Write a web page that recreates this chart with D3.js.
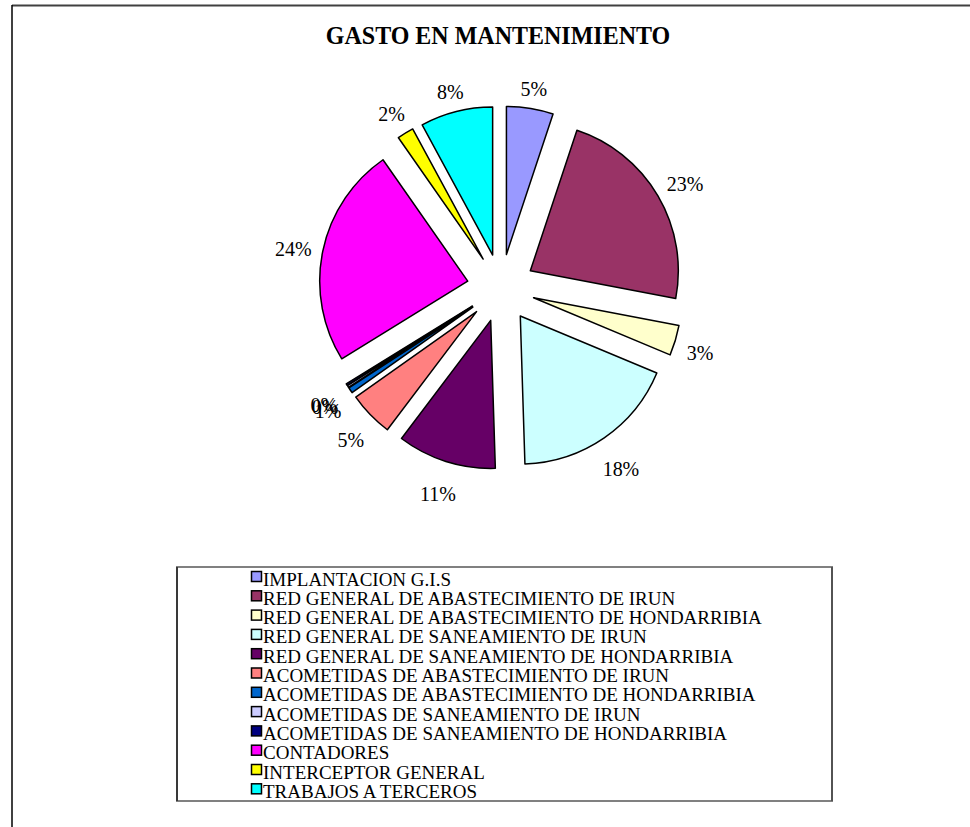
<!DOCTYPE html>
<html>
<head>
<meta charset="utf-8">
<script src="https://cdn.jsdelivr.net/npm/d3@7"></script>
<style>
  body { margin: 0; background: #fff; }
  text { font-family: "Liberation Serif", "Times New Roman", serif; fill: #000; }
</style>
</head>
<body>
<svg class="chart"></svg>
<script>
var width = 970,
    height = 827;

// data
var categories = [
  "IMPLANTACION G.I.S",
  "RED GENERAL DE ABASTECIMIENTO DE IRUN",
  "RED GENERAL DE ABASTECIMIENTO DE HONDARRIBIA",
  "RED GENERAL DE SANEAMIENTO DE IRUN",
  "RED GENERAL DE SANEAMIENTO DE HONDARRIBIA",
  "ACOMETIDAS DE ABASTECIMIENTO DE IRUN",
  "ACOMETIDAS DE ABASTECIMIENTO DE HONDARRIBIA",
  "ACOMETIDAS DE SANEAMIENTO DE IRUN",
  "ACOMETIDAS DE SANEAMIENTO DE HONDARRIBIA",
  "CONTADORES",
  "INTERCEPTOR GENERAL",
  "TRABAJOS A TERCEROS"
];
var values = [5.1, 22.9, 3.3, 18.2, 10.8, 4.9, 0.6, 0.2, 0.2, 24.1, 1.8, 7.9];
var colors = ["#9999FF", "#993366", "#FFFFCC", "#CCFFFF", "#660066", "#FF8080",
              "#0066CC", "#CCCCFF", "#000080", "#FF00FF", "#FFFF00", "#00FFFF"];
var title = "GASTO EN MANTENIMIENTO";

var svg = d3.select(".chart")
    .attr("width", width)
    .attr("height", height);

// outer frame (only top and left edges visible)
svg.append("line")
    .attr("x1", 12).attr("y1", 5.5).attr("x2", width).attr("y2", 5.5)
    .attr("stroke", "#404040").attr("stroke-width", 2);
svg.append("line")
    .attr("x1", 12).attr("y1", 5).attr("x2", 12).attr("y2", height)
    .attr("stroke", "#000").attr("stroke-width", 1.5);

// title
svg.append("text")
    .attr("transform", "translate(498,44) scale(1,1.08)")
    .attr("text-anchor", "middle")
    .style("font-size", "24px")
    .style("font-weight", "bold")
    .text(title);

// pie
var cx = 501, cy = 288, radius = 148, explode = 34;
var total = d3.sum(values);

var pie = d3.pie().sort(null).value(function(d) { return d; });
var arc = d3.arc().innerRadius(0).outerRadius(radius);
var arcs = pie(values);

function mid(d) { return (d.startAngle + d.endAngle) / 2; }

var g = svg.append("g").attr("transform", "translate(" + cx + "," + cy + ")");

g.selectAll("path.slice")
    .data(arcs)
  .enter().append("path")
    .attr("class", "slice")
    .attr("transform", function(d) {
      var a = mid(d);
      return "translate(" + (explode * Math.sin(a)) + "," + (-explode * Math.cos(a)) + ")";
    })
    .attr("d", arc)
    .attr("fill", function(d, i) { return colors[i]; })
    .attr("stroke", "#000")
    .attr("stroke-width", 1.5)
    .attr("stroke-linejoin", "round");

// percentage labels
var labels = g.selectAll("text.pct")
    .data(arcs)
  .enter().append("text")
    .attr("class", "pct")
    .attr("text-anchor", "middle")
    .attr("dy", "0.35em")
    .style("font-size", "20px")
    .text(function(d) { return Math.round(d.value / total * 100) + "%"; });

labels.each(function(d) {
  var a = mid(d),
      s = Math.sin(a), c = Math.cos(a),
      w = this.getComputedTextLength(),
      dist = explode + radius + 10 + (w / 2) * Math.abs(s) + 11 * Math.abs(c);
  d3.select(this)
      .attr("transform", "translate(" + (dist * s) + "," + (-dist * c + 3 + 4 * Math.max(0, -c)) + ") scale(1,1.08)");
});

// legend
var legendX = 177, legendY = 567, legendW = 655, legendH = 234,
    rowH = 19.3, firstBase = 585.5;

svg.append("rect")
    .attr("x", legendX).attr("y", legendY)
    .attr("width", legendW).attr("height", legendH)
    .attr("fill", "#fff")
    .attr("stroke", "#808080")
    .attr("stroke-width", 2);
svg.append("line")
    .attr("x1", legendX).attr("y1", legendY).attr("x2", legendX).attr("y2", legendY + legendH)
    .attr("stroke", "#222").attr("stroke-width", 1.5);
svg.append("line")
    .attr("x1", legendX + legendW).attr("y1", legendY).attr("x2", legendX + legendW).attr("y2", legendY + legendH)
    .attr("stroke", "#444").attr("stroke-width", 1.5);

var item = svg.selectAll("g.item")
    .data(categories)
  .enter().append("g")
    .attr("class", "item")
    .attr("transform", function(d, i) { return "translate(0," + (firstBase + i * rowH) + ")"; });

item.append("rect")
    .attr("x", 251.5).attr("y", -14)
    .attr("width", 10).attr("height", 10)
    .attr("fill", function(d, i) { return colors[i]; })
    .attr("stroke", "#000")
    .attr("stroke-width", 1.5);

item.append("text")
    .attr("x", 263)
    .attr("y", 0)
    .style("font-size", "19px")
    .text(function(d) { return d; });
</script>
</body>
</html>
